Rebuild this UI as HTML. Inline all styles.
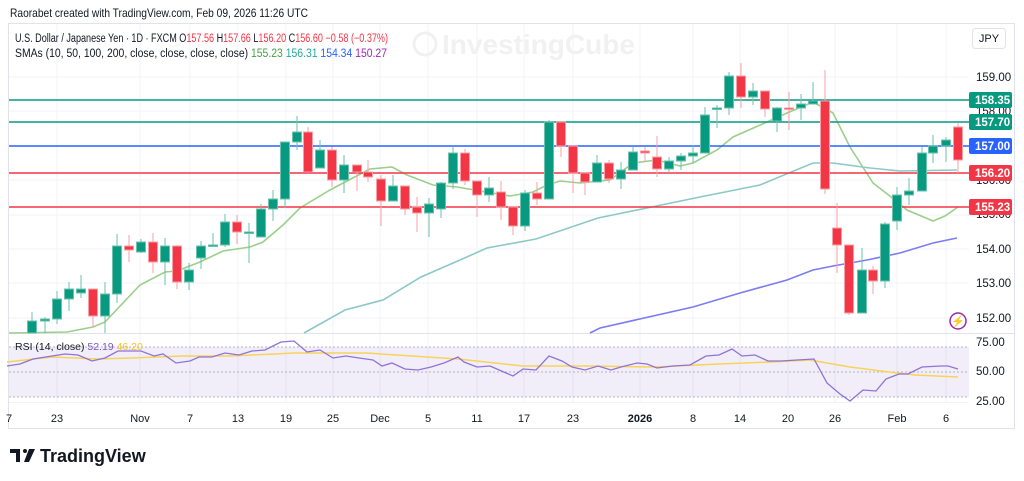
<!DOCTYPE html>
<html><head><meta charset="utf-8"><style>
html,body{margin:0;padding:0;background:#fff;width:1024px;height:481px;overflow:hidden}
svg{display:block;font-family:"Liberation Sans",sans-serif}
</style></head><body>
<svg width="1024" height="481" viewBox="0 0 1024 481" xmlns="http://www.w3.org/2000/svg">
<text x="10" y="17" font-size="12" fill="#131722" textLength="298" lengthAdjust="spacingAndGlyphs">Raorabet created with TradingView.com, Feb 09, 2026 11:26 UTC</text>
<rect x="8.5" y="23.5" width="1006" height="405" fill="none" stroke="#e0e3eb"/>
<!-- grid -->
<g stroke="#f0f3fa" stroke-width="1">
<line x1="57" y1="24" x2="57" y2="402"/><line x1="140" y1="24" x2="140" y2="402"/><line x1="190" y1="24" x2="190" y2="402"/><line x1="238" y1="24" x2="238" y2="402"/><line x1="286" y1="24" x2="286" y2="402"/><line x1="333" y1="24" x2="333" y2="402"/><line x1="380" y1="24" x2="380" y2="402"/><line x1="428" y1="24" x2="428" y2="402"/><line x1="477" y1="24" x2="477" y2="402"/><line x1="524" y1="24" x2="524" y2="402"/><line x1="573" y1="24" x2="573" y2="402"/><line x1="640" y1="24" x2="640" y2="402"/><line x1="693" y1="24" x2="693" y2="402"/><line x1="740" y1="24" x2="740" y2="402"/><line x1="788" y1="24" x2="788" y2="402"/><line x1="835" y1="24" x2="835" y2="402"/><line x1="897" y1="24" x2="897" y2="402"/><line x1="946" y1="24" x2="946" y2="402"/>
<line x1="9" y1="77" x2="969" y2="77"/><line x1="9" y1="111" x2="969" y2="111"/><line x1="9" y1="146" x2="969" y2="146"/><line x1="9" y1="180" x2="969" y2="180"/><line x1="9" y1="215" x2="969" y2="215"/><line x1="9" y1="249" x2="969" y2="249"/><line x1="9" y1="283" x2="969" y2="283"/><line x1="9" y1="318" x2="969" y2="318"/>
</g>
<line x1="9" y1="333.5" x2="1014" y2="333.5" stroke="#e0e3eb"/>
<line x1="9" y1="402.5" x2="969" y2="402.5" stroke="#f0f3fa"/>
<!-- watermark -->
<circle cx="425" cy="44" r="11" fill="none" stroke="#f1f1f1" stroke-width="3"/>
<text x="442" y="54" font-size="28" font-weight="bold" fill="#f1f1f1">InvestingCube</text>
<!-- SMAs -->
<g fill="none" stroke-width="1.6">
<polyline stroke="#9bcf8a" points="9,333 67,332 93,327 105,322 140,285 165,272 177,271 200,262 223,251 250,247 263,242 283,225 300,208 330,190 347,181 370,169 392,167 407,175 433,185 457,187 480,191 510,196 533,192 547,185 560,181 580,183 610,180 633,163 657,160 680,166 693,163 717,150 733,137 767,122 787,113 813,102 833,113 850,147 873,183 895,200 907,210 933,221 945,216 958,207"/>
<polyline stroke="#8cc8c8" points="304,333 345,310 383,300 421,277 460,260 487,248 536,239 598,218 700,197 760,185 813,163 833,163 870,168 900,171 957,170"/>
<polyline stroke="#7b7bf5" points="590,333 600,328 693,307 740,293 787,280 813,270 833,266 867,260 900,253 933,243 957,238"/>
</g>
<!-- horizontal levels -->
<g stroke-width="1.6">
<line x1="9" y1="100" x2="969" y2="100" stroke="#089981"/>
<line x1="9" y1="122" x2="969" y2="122" stroke="#089981"/>
<line x1="9" y1="146" x2="969" y2="146" stroke="#2962ff"/>
<line x1="9" y1="173" x2="969" y2="173" stroke="#f23645"/>
<line x1="9" y1="207" x2="969" y2="207" stroke="#f23645"/>
</g>
<!-- candles -->
<g stroke-width="1">
<g stroke="#6cc2ab" fill="#089981">
<line x1="32" y1="312" x2="32" y2="333"/><rect x="27.5" y="321" width="9" height="12"/>
<line x1="45" y1="317" x2="45" y2="333"/><rect x="40.5" y="319" width="9" height="2"/>
<line x1="57" y1="291" x2="57" y2="324"/><rect x="52.5" y="299" width="9" height="20"/>
<line x1="69" y1="282" x2="69" y2="311"/><rect x="64.5" y="289" width="9" height="10"/>
<line x1="81" y1="275" x2="81" y2="298"/><rect x="76.5" y="289" width="9" height="4"/>
<line x1="105" y1="282" x2="105" y2="333"/><rect x="100.5" y="294" width="9" height="22"/>
<line x1="117" y1="234" x2="117" y2="303"/><rect x="112.5" y="246" width="9" height="48"/>
<line x1="141" y1="239" x2="141" y2="253"/><rect x="136.5" y="242" width="9" height="10"/>
<line x1="165" y1="238" x2="165" y2="285"/><rect x="160.5" y="246" width="9" height="16"/>
<line x1="189" y1="263" x2="189" y2="290"/><rect x="184.5" y="270" width="9" height="12"/>
<line x1="201" y1="241" x2="201" y2="269"/><rect x="196.5" y="246" width="9" height="12"/>
<line x1="213" y1="233" x2="213" y2="247"/><rect x="208.5" y="245" width="9" height="1.5"/>
<line x1="225" y1="214" x2="225" y2="247"/><rect x="220.5" y="222" width="9" height="23"/>
<line x1="249" y1="223" x2="249" y2="263"/><rect x="244.5" y="232" width="9" height="1.5"/>
<line x1="261" y1="204" x2="261" y2="237"/><rect x="256.5" y="209" width="9" height="28"/>
<line x1="273" y1="190" x2="273" y2="221"/><rect x="268.5" y="199" width="9" height="10"/>
<line x1="285" y1="142" x2="285" y2="208"/><rect x="280.5" y="142" width="9" height="57"/>
<line x1="297" y1="116" x2="297" y2="150"/><rect x="292.5" y="132" width="9" height="10"/>
<line x1="320" y1="140" x2="320" y2="168"/><rect x="315.5" y="150" width="9" height="18"/>
<line x1="344" y1="155" x2="344" y2="193"/><rect x="339.5" y="165" width="9" height="15"/>
<line x1="393" y1="175" x2="393" y2="201"/><rect x="388.5" y="186" width="9" height="15"/>
<line x1="429" y1="198" x2="429" y2="237"/><rect x="424.5" y="204" width="9" height="9"/>
<line x1="441" y1="182" x2="441" y2="218"/><rect x="436.5" y="183" width="9" height="26"/>
<line x1="453" y1="147" x2="453" y2="189"/><rect x="448.5" y="153" width="9" height="30"/>
<line x1="489" y1="177" x2="489" y2="202"/><rect x="484.5" y="188" width="9" height="7"/>
<line x1="525" y1="190" x2="525" y2="231"/><rect x="520.5" y="193" width="9" height="33"/>
<line x1="549" y1="120" x2="549" y2="199"/><rect x="544.5" y="122" width="9" height="77"/>
<line x1="597" y1="155" x2="597" y2="182"/><rect x="592.5" y="163" width="9" height="19"/>
<line x1="621" y1="162" x2="621" y2="189"/><rect x="616.5" y="170" width="9" height="9"/>
<line x1="633" y1="147" x2="633" y2="170"/><rect x="628.5" y="152" width="9" height="18"/>
<line x1="669" y1="157" x2="669" y2="173"/><rect x="664.5" y="161" width="9" height="8"/>
<line x1="681" y1="153" x2="681" y2="170"/><rect x="676.5" y="156" width="9" height="5"/>
<line x1="693" y1="145" x2="693" y2="163"/><rect x="688.5" y="153" width="9" height="3"/>
<line x1="705" y1="107" x2="705" y2="153"/><rect x="700.5" y="115" width="9" height="38"/>
<line x1="717" y1="105" x2="717" y2="128"/><rect x="712.5" y="108" width="9" height="1.5"/>
<line x1="729" y1="72" x2="729" y2="115"/><rect x="724.5" y="76" width="9" height="32"/>
<line x1="753" y1="83" x2="753" y2="105"/><rect x="748.5" y="91" width="9" height="6"/>
<line x1="777" y1="107" x2="777" y2="132"/><rect x="772.5" y="108" width="9" height="13"/>
<line x1="801" y1="94" x2="801" y2="120"/><rect x="796.5" y="104" width="9" height="4"/>
<line x1="813" y1="82" x2="813" y2="104"/><rect x="808.5" y="101" width="9" height="3"/>
<line x1="862" y1="248" x2="862" y2="313"/><rect x="857.5" y="270" width="9" height="43"/>
<line x1="885" y1="222" x2="885" y2="288"/><rect x="880.5" y="224" width="9" height="57"/>
<line x1="897" y1="187" x2="897" y2="230"/><rect x="892.5" y="195" width="9" height="26"/>
<line x1="909" y1="178" x2="909" y2="205"/><rect x="904.5" y="191" width="9" height="4"/>
<line x1="922" y1="147" x2="922" y2="191"/><rect x="917.5" y="153" width="9" height="38"/>
<line x1="933" y1="135" x2="933" y2="163"/><rect x="928.5" y="146" width="9" height="7"/>
<line x1="946" y1="137" x2="946" y2="162"/><rect x="941.5" y="140" width="9" height="6"/>
</g>
<g stroke="#f7a0a7" fill="#f23645">
<line x1="93" y1="289" x2="93" y2="327"/><rect x="88.5" y="289" width="9" height="27"/>
<line x1="129" y1="235" x2="129" y2="262"/><rect x="124.5" y="246" width="9" height="4"/>
<line x1="153" y1="233" x2="153" y2="273"/><rect x="148.5" y="242" width="9" height="20"/>
<line x1="177" y1="245" x2="177" y2="289"/><rect x="172.5" y="246" width="9" height="36"/>
<line x1="237" y1="215" x2="237" y2="244"/><rect x="232.5" y="222" width="9" height="10"/>
<line x1="308" y1="127" x2="308" y2="173"/><rect x="303.5" y="132" width="9" height="40"/>
<line x1="332" y1="147" x2="332" y2="187"/><rect x="327.5" y="150" width="9" height="30"/>
<line x1="357" y1="165" x2="357" y2="191"/><rect x="352.5" y="165" width="9" height="7"/>
<line x1="368" y1="160" x2="368" y2="182"/><rect x="363.5" y="172" width="9" height="5"/>
<line x1="381" y1="175" x2="381" y2="226"/><rect x="376.5" y="179" width="9" height="22"/>
<line x1="405" y1="186" x2="405" y2="215"/><rect x="400.5" y="186" width="9" height="23"/>
<line x1="417" y1="197" x2="417" y2="232"/><rect x="412.5" y="207" width="9" height="6"/>
<line x1="465" y1="149" x2="465" y2="185"/><rect x="460.5" y="153" width="9" height="28"/>
<line x1="477" y1="181" x2="477" y2="217"/><rect x="472.5" y="181" width="9" height="14"/>
<line x1="501" y1="181" x2="501" y2="220"/><rect x="496.5" y="192" width="9" height="15"/>
<line x1="513" y1="207" x2="513" y2="235"/><rect x="508.5" y="207" width="9" height="19"/>
<line x1="537" y1="182" x2="537" y2="205"/><rect x="532.5" y="193" width="9" height="6"/>
<line x1="561" y1="122" x2="561" y2="157"/><rect x="556.5" y="122" width="9" height="24"/>
<line x1="573" y1="146" x2="573" y2="193"/><rect x="568.5" y="146" width="9" height="27"/>
<line x1="585" y1="172" x2="585" y2="195"/><rect x="580.5" y="173" width="9" height="9"/>
<line x1="609" y1="160" x2="609" y2="183"/><rect x="604.5" y="163" width="9" height="16"/>
<line x1="645" y1="147" x2="645" y2="162"/><rect x="640.5" y="151" width="9" height="2"/>
<line x1="657" y1="136" x2="657" y2="177"/><rect x="652.5" y="157" width="9" height="12"/>
<line x1="741" y1="63" x2="741" y2="108"/><rect x="736.5" y="76" width="9" height="21"/>
<line x1="765" y1="91" x2="765" y2="117"/><rect x="760.5" y="91" width="9" height="18"/>
<line x1="789" y1="92" x2="789" y2="130"/><rect x="784.5" y="108" width="9" height="1.5"/>
<line x1="825" y1="70" x2="825" y2="194"/><rect x="820.5" y="101" width="9" height="88"/>
<line x1="837" y1="203" x2="837" y2="273"/><rect x="832.5" y="228" width="9" height="17"/>
<line x1="849" y1="245" x2="849" y2="315"/><rect x="844.5" y="245" width="9" height="68"/>
<line x1="873" y1="266" x2="873" y2="294"/><rect x="868.5" y="270" width="9" height="11"/>
<line x1="958" y1="123" x2="958" y2="173"/><rect x="953.5" y="127" width="9" height="33"/>
</g>
</g>
<!-- legend -->
<text x="15" y="42" font-size="11.5" fill="#131722" textLength="373" lengthAdjust="spacingAndGlyphs">U.S. Dollar / Japanese Yen · 1D · FXCM  O<tspan fill="#f23645">157.56</tspan> H<tspan fill="#f23645">157.66</tspan> L<tspan fill="#f23645">156.20</tspan> C<tspan fill="#f23645">156.60</tspan> <tspan fill="#f23645">−0.58 (−0.37%)</tspan></text>
<text x="15" y="57" font-size="11.5" fill="#131722" textLength="372" lengthAdjust="spacingAndGlyphs">SMAs (10, 50, 100, 200, close, close, close, close)  <tspan fill="#43a047">155.23</tspan>  <tspan fill="#26a69a">156.31</tspan>  <tspan fill="#2962ff">154.34</tspan>  <tspan fill="#9c27b0">150.27</tspan></text>
<rect x="972.5" y="28.5" width="33" height="20" rx="3" fill="#fff" stroke="#e0e3eb"/>
<text x="989" y="42" font-size="11" fill="#131722" text-anchor="middle">JPY</text>
<!-- price axis -->
<g font-size="11.5" fill="#131722">
<text x="976" y="81">159.00</text><text x="976" y="115">158.00</text><text x="976" y="184">156.00</text><text x="976" y="218">155.00</text><text x="976" y="253">154.00</text><text x="976" y="287">153.00</text><text x="976" y="322">152.00</text>
</g>
<g font-size="11.5" font-weight="bold" fill="#fff">
<rect x="969" y="92" width="43" height="16" rx="2" fill="#089981"/><text x="975" y="104">158.35</text>
<rect x="969" y="114" width="43" height="16" rx="2" fill="#089981"/><text x="975" y="126">157.70</text>
<rect x="969" y="138" width="43" height="16" rx="2" fill="#2962ff"/><text x="975" y="150">157.00</text>
<rect x="969" y="165" width="43" height="16" rx="2" fill="#f23645"/><text x="975" y="177">156.20</text>
<rect x="969" y="199" width="43" height="16" rx="2" fill="#f23645"/><text x="975" y="211">155.23</text>
</g>
<circle cx="958" cy="321" r="8" fill="#fff" stroke="#9c27b0" stroke-width="1.5"/>
<text x="958" y="325" font-size="11" fill="#9c27b0" text-anchor="middle">⚡</text>
<!-- RSI -->
<rect x="9" y="347" width="960" height="50" fill="#7e57c2" opacity="0.1"/>
<g stroke="#b2b5be" stroke-dasharray="2,2"><line x1="9" y1="347" x2="969" y2="347"/><line x1="9" y1="372" x2="969" y2="372"/><line x1="9" y1="397" x2="969" y2="397"/></g>
<polyline fill="none" stroke="#f7d35a" stroke-width="1.5" points="7,362 52,357 98,359 131,358 183,356 229,356 275,354 294,353 366,353 458,359 523,366 588,366 654,367 719,364 771,362 810,360 850,367 889,372 915,375 958,377"/>
<polyline fill="none" stroke="#8f73d6" stroke-width="1.3" points="7,366 20,364 33,359 52,356 65,354 78,355 92,361 105,358 118,351 131,351 141,351 154,356 163,354 176,363 190,361 199,357 212,357 225,353 239,355 252,351 265,350 281,342 294,341 307,352 320,350 333,358 346,356 359,358 373,360 382,366 392,363 405,369 418,370 431,367 444,363 458,357 464,362 477,367 490,366 513,376 523,369 536,370 549,356 562,361 572,367 585,370 598,366 611,370 621,367 637,363 647,364 657,368 673,366 690,365 706,356 719,355 732,349 742,356 755,355 768,361 781,361 797,360 814,359 827,383 840,394 850,401 863,390 876,391 886,379 899,374 908,374 922,367 941,366 948,366 958,369"/>
<text x="15" y="350" font-size="10.5" fill="#131722">RSI (14, close) <tspan fill="#7e57c2">52.19</tspan> <tspan fill="#f7c325">46.20</tspan></text>
<g font-size="11.5" fill="#131722"><text x="976" y="346">75.00</text><text x="976" y="375">50.00</text><text x="976" y="405">25.00</text></g>
<!-- time axis -->
<g font-size="11" fill="#131722" text-anchor="middle">
<text x="9" y="422">7</text><text x="57" y="422">23</text><text x="140" y="422">Nov</text><text x="190" y="422">7</text><text x="238" y="422">13</text><text x="286" y="422">19</text><text x="333" y="422">25</text><text x="380" y="422">Dec</text><text x="428" y="422">5</text><text x="477" y="422">11</text><text x="524" y="422">17</text><text x="573" y="422">23</text><text x="640" y="422" font-weight="bold">2026</text><text x="693" y="422">8</text><text x="740" y="422">14</text><text x="788" y="422">20</text><text x="835" y="422">26</text><text x="897" y="422">Feb</text><text x="946" y="422">6</text>
</g>
<!-- TradingView logo -->
<g fill="#131722">
<path d="M10 449 h10 v13 h-4 v-9 h-6z"/><circle cx="25" cy="451" r="2"/><path d="M29 449 h6 l-6 13 h-5z"/>
</g>
<text x="40" y="462" font-size="18" font-weight="bold" fill="#131722">TradingView</text>
</svg>
</body></html>
